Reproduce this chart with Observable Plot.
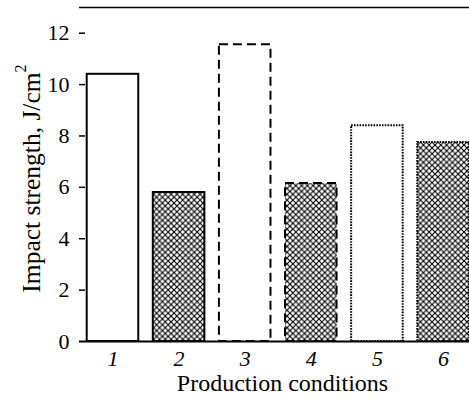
<!DOCTYPE html>
<html>
<head>
<meta charset="utf-8">
<script src="https://cdn.jsdelivr.net/npm/d3@7"></script>
<script src="https://cdn.jsdelivr.net/npm/@observablehq/plot@0.6"></script>
<style>
  html, body { margin: 0; padding: 0; background: white; overflow: hidden; }
  #defs { position: absolute; width: 0; height: 0; }
</style>
</head>
<body>
<svg id="defs" width="0" height="0">
  <defs>
    <pattern id="xhatch" patternUnits="userSpaceOnUse" width="5.8" height="5.8">
      <rect width="5.8" height="5.8" fill="white"></rect>
      <path d="M-1,-1L6.8,6.8M6.8,-1L-1,6.8" stroke="black" stroke-width="1.1"></path>
    </pattern>
  </defs>
</svg>
<div id="chart"></div>
<script>
const conditions = ["1", "2", "3", "4", "5", "6"];
const strength = [10.4, 5.8, 11.55, 6.15, 8.4, 7.75];
const fills = ["white", "url(#xhatch)", "white", "url(#xhatch)", "white", "url(#xhatch)"];
const dashes = ["none", "none", "9,5", "9,5", "1.6,1.2", "1.6,1.2"];
const widths = [2, 2, 2, 2, 2, 2];
const yTicks = [0, 2, 4, 6, 8, 10, 12];
const yLabel = "Impact strength, J/cm";
const yLabelSup = "2";
const xLabel = "Production conditions";

const serif = "'Liberation Serif', 'Times New Roman', Times, Tinos, serif";
const data = conditions.map((c, i) => ({c, v: strength[i], fill: fills[i], dash: dashes[i], sw: widths[i]}));

const marks = [];
data.forEach(d => {
  marks.push(Plot.barY([d], {
    x: "c", y: "v",
    fill: d.fill, stroke: "black", strokeWidth: d.sw,
    strokeDasharray: d.dash
  }));
});

const chart = Plot.plot({
  width: 469,
  height: 398,
  marginLeft: 79,
  marginRight: 0,
  marginTop: 7,
  marginBottom: 57,
  style: {fontFamily: serif, fontSize: "22px", color: "black", background: "white"},
  x: {domain: conditions, range: [79, 476.5], paddingInner: 0.22, paddingOuter: 0.1165, round: false, label: null},
  y: {domain: [0, 13], label: null},
  marks: [
    ...marks,
    Plot.ruleY([0], {stroke: "black", strokeWidth: 2.2}),
    Plot.ruleY([13], {stroke: "black", strokeWidth: 1.6}),
    Plot.ruleY(yTicks.slice(1), {y: d => d, stroke: "black", strokeWidth: 1.5, insetRight: 384}),
    Plot.axisY({ticks: yTicks, tickSize: 0, tickPadding: 10, line: true, strokeWidth: 1.6, label: null, fontSize: 22, fontFamily: serif}),
    Plot.axisX({tickSize: 0, tickPadding: 9, fontStyle: "italic", label: null, fontSize: 22, fontFamily: serif}),
    Plot.text([xLabel], {frameAnchor: "bottom", textAnchor: "middle", lineAnchor: "bottom", dx: 8, dy: 49, fontSize: 24, fontFamily: serif, text: d => d}),
    Plot.text([yLabel], {frameAnchor: "left", textAnchor: "middle", lineAnchor: "middle", rotate: -90, dx: -48, dy: 8, fontSize: 25.5, fontFamily: serif, text: d => d}),
    Plot.text([yLabelSup], {frameAnchor: "left", textAnchor: "middle", lineAnchor: "middle", rotate: -90, dx: -59, dy: -106, fontSize: 16, fontFamily: serif, text: d => d})
  ]
});
document.getElementById("chart").append(chart);
</script>
</body>
</html>
